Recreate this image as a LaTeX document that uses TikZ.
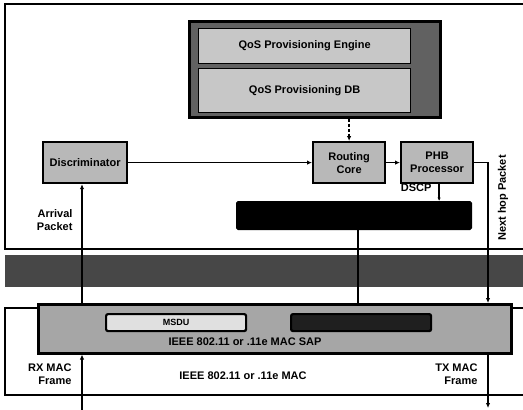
\documentclass[tikz,border=0pt]{standalone}
\usepackage{fontspec}
\setmainfont{Liberation Sans}
\usetikzlibrary{arrows.meta,backgrounds}
\begin{document}
\begin{tikzpicture}[x=1pt,y=-1pt,
  lbl/.style={font=\fontsize{11}{13}\selectfont\bfseries},
  blk/.style={draw=black,line width=2.2pt,fill=black!28,lbl,align=center,inner sep=0pt,anchor=north west},
  arr/.style={line width=1.6pt,-{Latex[length=5pt,width=4.5pt]}},
  sarr/.style={line width=1.4pt,-{Latex[length=3.5pt,width=3.5pt]}},
  ln/.style={line width=1.6pt},
  frame/.style={line width=1.6pt}]
\useasboundingbox (0,0) rectangle (523,410);
% frames
\draw[frame] (523,4) -- (5,4) -- (5,249) -- (523,249);
\draw[frame] (37,308) -- (5,308) -- (5,395) -- (523,395);
\draw[frame] (510,308) -- (523,308);
% QoS block
\node[blk,fill=black!62,line width=2.5pt,minimum width=251pt,minimum height=96pt] (qos) at (188,20) {};
\node[blk,fill=black!22,line width=1.2pt,minimum width=212pt,minimum height=35pt] (eng) at (198,28) {QoS Provisioning Engine};
\node[blk,fill=black!22,line width=1.2pt,minimum width=212pt,minimum height=44pt] (db) at (198,68) {QoS Provisioning DB};
% processing blocks
\node[blk,minimum width=84pt,minimum height=41pt] (disc) at (42,141) {Discriminator};
\node[blk,minimum width=72pt,minimum height=41pt] (rc) at (312,141) {Routing\\Core};
\node[blk,minimum width=72pt,minimum height=41pt] (phb) at (400,141) {PHB\\Processor};
\node[blk,fill=black,rounded corners=1.5pt,line width=1pt,minimum width=235pt,minimum height=28pt] (bar) at (236,201) {};
% MAC SAP
\node[blk,fill=black!35,line width=2.5pt,minimum width=473pt,minimum height=49pt] (sap) at (37,303) {};
\node[blk,fill=black!12,line width=2.2pt,rounded corners=2pt,minimum width=140pt,minimum height=17pt,font=\fontsize{9}{10}\selectfont\bfseries] (msdu) at (105,313) {MSDU};
\node[blk,fill=black!88,line width=2.2pt,rounded corners=2pt,minimum width=140pt,minimum height=17pt] (rbox) at (290,313) {};
\node[lbl] (saplbl) at (245,342) {IEEE 802.11 or .11e MAC SAP};
% labels
\node[lbl,align=right,anchor=east] (arrl) at (76,220) {Arrival\\Packet};
\node[lbl,anchor=south east] (dscp) at (435,195) {DSCP};
\node[lbl,rotate=90] (nhl) at (503,198) {Next hop Packet};
\node[lbl,align=right,anchor=east] (rxl) at (75,374) {RX MAC\\Frame};
\node[lbl,align=right,anchor=east] (txl) at (481,374) {TX MAC\\Frame};
\node[lbl] (macl) at (243,376) {IEEE 802.11 or .11e MAC};
% coordinates
\coordinate (rxIn) at (82,410);
\coordinate (nhTop) at (488,303);
\coordinate (nhEnd) at (488,408);
\coordinate (bx) at (358,0);
\begin{scope}[on background layer]
\fill[black!72] (5,255) rectangle (523,287);
\draw[arr] (disc.east) -- (rc.west |- disc.east);
\draw[arr] (rc.east) -- (phb.west);
\draw[arr,densely dashed] (rc.north |- qos.south) -- (rc.north);
\draw[arr] (phb.east) -| (nhTop);
\draw[arr] (nhTop) -- (nhEnd);
\draw[arr] (rxIn) -- (rxIn |- sap.south);
\draw[arr] (rxIn |- sap.north) -- (rxIn |- disc.south);
\draw[sarr] ([xshift=2pt]phb.south) -- ([xshift=2pt]phb.south |- bar.north);
\draw[ln] (bar.south -| bx) -- (rbox.north -| bx);
\end{scope}
\end{tikzpicture}
\end{document}
